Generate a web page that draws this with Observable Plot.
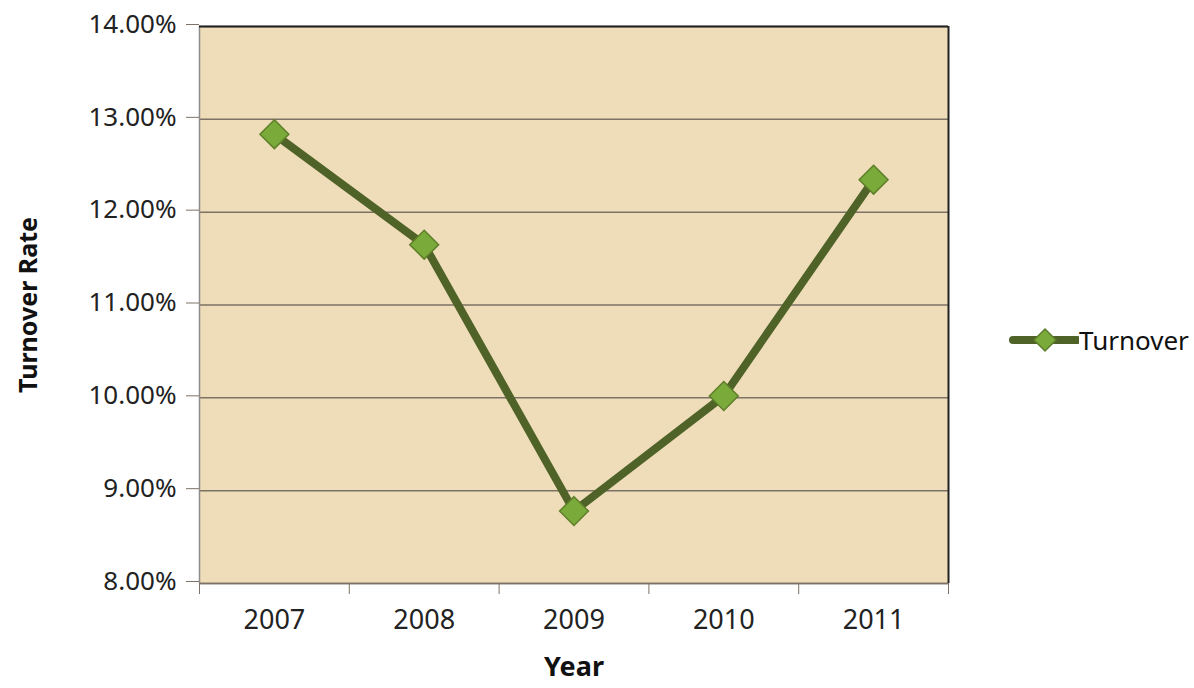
<!DOCTYPE html>
<html>
<head>
<meta charset="utf-8">
<script src="https://cdn.jsdelivr.net/npm/d3@7"></script>
<script src="https://cdn.jsdelivr.net/npm/@observablehq/plot@0.6"></script>
<style>
  html, body { margin: 0; padding: 0; background: #fff; }
  #wrap { position: relative; width: 1194px; height: 688px; }
  #legend { position: absolute; left: 1009px; top: 322px; display: flex; align-items: center;
            font-family: "Noto Sans", sans-serif; font-size: 26px; color: #111; white-space: nowrap; }
</style>
</head>
<body>
<div id="wrap">
  <div id="chart"></div>
  <div id="legend">
    <svg width="70" height="36" viewBox="0 0 70 36">
      <line x1="4" y1="18" x2="68" y2="18" stroke="#4F6228" stroke-width="8" stroke-linecap="round"></line>
      <path d="M36 7 L47 18 L36 29 L25 18 Z" fill="#7AAA3A" stroke="#5E7F2A" stroke-width="1.5"></path>
    </svg>
    <span>Turnover</span>
  </div>
</div>
<script>
const years = ["2007", "2008", "2009", "2010", "2011"];
const turnover = [12.84, 11.65, 8.78, 10.02, 12.35];
const yTicks = [8, 9, 10, 11, 12, 13, 14];
const seriesName = "Turnover";

const data = years.map((y, i) => ({ idx: i + 1, year: y, value: turnover[i], series: seriesName }));
const positions = years.map((_, i) => i + 1);
const boundaries = d3.range(0.5, years.length + 1, 1);

const chart = Plot.plot({
  width: 1194,
  height: 688,
  marginLeft: 199,
  marginRight: 246,
  marginTop: 26,
  marginBottom: 105,
  style: { fontFamily: "Noto Sans, sans-serif", fontSize: "22px", color: "#222", background: "#fff" },
  x: { type: "linear", domain: [0.5, years.length + 0.5] },
  y: { domain: [8, 14] },
  marks: [
    Plot.frame({ fill: "#EEDDB8", stroke: null }),
    Plot.gridY(yTicks, { stroke: "#7d7266", strokeOpacity: 1, strokeWidth: 1.5 }),
    Plot.ruleX([0.5], { stroke: "#8c8c8c", strokeWidth: 1.5 }),
    Plot.ruleX([years.length + 0.5], { stroke: "#222", strokeWidth: 2 }),
    Plot.ruleY([14], { stroke: "#222", strokeWidth: 2 }),
    Plot.ruleY([8], { stroke: "#7d7266", strokeWidth: 1.5 }),
    Plot.axisY(yTicks, {
      tickFormat: d => d.toFixed(2) + "%", tickSize: 13, tickPadding: 10,
      stroke: "#7d7266", fontSize: 26, dy: -2, label: null
    }),
    Plot.axisX(boundaries, { tickFormat: () => "", tickSize: 11, stroke: "#7d7266", label: null }),
    Plot.axisX(positions, {
      tickFormat: d => years[d - 1], tickSize: 0, tickPadding: 26, fontSize: 27, label: null
    }),
    Plot.text(["Turnover Rate"], {
      frameAnchor: "left", textAnchor: "middle", dx: -171, rotate: -90,
      fontWeight: "bold", fontSize: 25, fill: "#111"
    }),
    Plot.text(["Year"], {
      frameAnchor: "bottom", dy: 92, fontWeight: "bold", fontSize: 27, fill: "#111"
    }),
    Plot.line(data, { x: "idx", y: "value", stroke: "#4F6228", strokeWidth: 8, strokeLinejoin: "round", strokeLinecap: "round" }),
    Plot.dot(data, { x: "idx", y: "value", symbol: "diamond2", r: 13, fill: "#7AAA3A", stroke: "#5E7F2A", strokeWidth: 1.5 })
  ]
});
document.getElementById("chart").appendChild(chart);
</script>
</body>
</html>
